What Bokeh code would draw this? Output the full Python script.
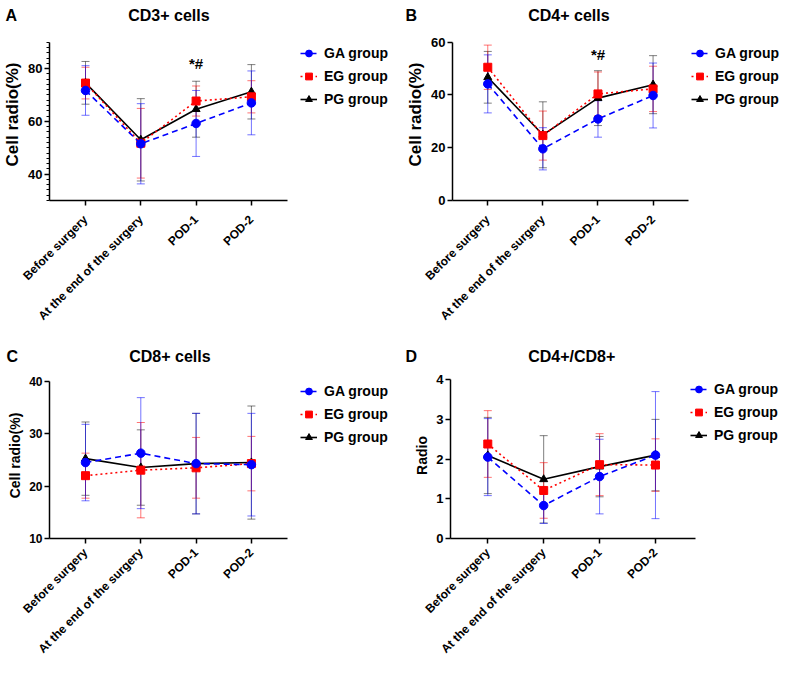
import math
from bokeh.plotting import figure
from bokeh.models import (Range1d, FixedTicker, Legend, LegendItem, Title,
                          ColumnDataSource, Whisker, TeeHead)
from bokeh.layouts import row, column
from bokeh.embed import file_html
from bokeh.resources import INLINE
from bokeh.core.properties import value

# ---------------- data ----------------
categories = ["Before surgery", "At the end of the surgery", "POD-1", "POD-2"]
x_pos = [0, 1, 2, 3]
group_names = ["GA group", "EG group", "PG group"]

cd3_ga_mean = [71.7, 51.5, 59.2, 67.0]
cd3_ga_sd = [9.4, 15.2, 12.5, 12.1]
cd3_eg_mean = [74.5, 51.7, 67.7, 69.3]
cd3_eg_sd = [6.0, 13.2, 5.7, 6.1]
cd3_pg_mean = [74.6, 53.0, 64.6, 71.2]
cd3_pg_sd = [8.1, 15.6, 10.6, 10.3]

cd4_ga_mean = [44.2, 19.6, 30.9, 39.8]
cd4_ga_sd = [11.0, 8.0, 6.9, 12.3]
cd4_eg_mean = [50.5, 24.6, 40.4, 42.3]
cd4_eg_sd = [8.4, 9.3, 8.3, 8.6]
cd4_pg_mean = [46.7, 24.9, 38.8, 43.9]
cd4_pg_sd = [9.8, 12.5, 10.4, 11.0]

cd8_ga_mean = [24.5, 26.3, 24.3, 24.1]
cd8_ga_sd = [7.3, 10.6, 9.6, 9.8]
cd8_eg_mean = [22.0, 23.05, 23.5, 24.3]
cd8_eg_sd = [4.3, 9.1, 5.8, 5.2]
cd8_pg_mean = [25.25, 23.55, 24.3, 24.5]
cd8_pg_sd = [7.0, 7.2, 9.6, 10.8]

ratio_ga_mean = [2.05, 0.83, 1.56, 2.10]
ratio_ga_sd = [0.97, 0.45, 0.94, 1.60]
ratio_eg_mean = [2.38, 1.21, 1.86, 1.85]
ratio_eg_sd = [0.84, 0.70, 0.78, 0.66]
ratio_pg_mean = [2.09, 1.49, 1.81, 2.10]
ratio_pg_sd = [0.96, 1.10, 0.76, 0.90]

cd3_ylim = (30, 90)
cd3_yticks = [40, 60, 80]
cd3_yminor = list(range(30, 91, 2))
cd4_ylim = (0, 60)
cd4_yticks = [0, 20, 40, 60]
cd8_ylim = (10, 40)
cd8_yticks = [10, 20, 30, 40]
ratio_ylim = (0, 4)
ratio_yticks = [0, 1, 2, 3, 4]

panel_letters = ["A", "B", "C", "D"]
panel_titles = ["CD3+ cells", "CD4+ cells", "CD8+ cells", "CD4+/CD8+"]

sig_mark = "*#"
sig_x = 2
cd3_sig_y = 82
cd4_sig_y = 55.5

FONT = "Liberation Sans"
NBSP = "\u00a0"
styles = {
    "GA group": dict(color="#0000FF", dash="6 4", marker="circle", size=8.5, ealpha=0.55),
    "EG group": dict(color="#FF0000", dash="2 3", marker="square", size=8, ealpha=0.55),
    "PG group": dict(color="#000000", dash="solid", marker="triangle", size=8, ealpha=0.5),
}


def make_panel(w, h, bl, bt, bb, xr, xbounds, ylim, ytop, yticks, yminor, ylabel,
               ylabel_size, ytick_size, letter, title, gap, head_off, head_stand,
               xstand, legend_x, legend_y, series, sig_y=None):
    # frame reaches up to the heading; the axis itself is bounded to ylim
    p = figure(width=w, height=h, output_backend="svg", toolbar_location=None,
               x_range=Range1d(*xr), y_range=Range1d(ylim[0], ytop),
               min_border_left=bl, min_border_top=bt, min_border_bottom=bb,
               min_border_right=0)
    p.title.visible = False
    p.outline_line_color = None
    p.xgrid.visible = False
    p.ygrid.visible = False
    p.background_fill_color = "white"
    p.border_fill_color = "white"

    # axes
    p.xaxis.ticker = FixedTicker(ticks=x_pos)
    p.xaxis.bounds = xbounds
    p.xaxis.major_label_overrides = {i: c for i, c in zip(x_pos, categories)}
    p.xaxis.major_label_orientation = math.pi / 4
    p.yaxis.ticker = FixedTicker(ticks=yticks, minor_ticks=yminor)
    p.yaxis.bounds = ylim
    p.yaxis.axis_label = ylabel
    for ax in (p.xaxis[0], p.yaxis[0]):
        ax.axis_line_width = 1.5
        ax.axis_line_color = "black"
        ax.major_tick_line_width = 1.5
        ax.major_tick_line_color = "black"
        ax.major_tick_out = 5
        ax.major_tick_in = 0
        ax.minor_tick_out = 3
        ax.minor_tick_in = 0
        ax.minor_tick_line_width = 1
        ax.minor_tick_line_color = "black"
        ax.major_label_text_font = FONT
        ax.major_label_text_font_style = "bold"
        ax.major_label_text_color = "black"
        ax.axis_label_text_font = FONT
        ax.axis_label_text_font_style = "bold"
        ax.axis_label_text_color = "black"
    p.xaxis.major_label_text_font_size = "12px"
    p.xaxis.major_label_standoff = xstand
    p.yaxis.major_label_text_font_size = ytick_size
    p.yaxis.major_label_standoff = 2
    p.yaxis.axis_label_text_font_size = ylabel_size
    p.yaxis.axis_label_standoff = 3

    order = ["PG group", "EG group", "GA group"]
    rend = {}
    for g in order:
        mean, sd = series[g]
        st = styles[g]
        src = ColumnDataSource(dict(
            x=x_pos, y=mean,
            upper=[m + s for m, s in zip(mean, sd)],
            lower=[m - s for m, s in zip(mean, sd)]))
        wk = Whisker(base="x", upper="upper", lower="lower", source=src,
                     line_color=st["color"], line_alpha=st["ealpha"], line_width=1,
                     upper_head=TeeHead(size=8, line_color=st["color"],
                                        line_alpha=st["ealpha"], line_width=1),
                     lower_head=TeeHead(size=8, line_color=st["color"],
                                        line_alpha=st["ealpha"], line_width=1))
        p.add_layout(wk)
        lr = p.line("x", "y", source=src, line_color=st["color"], line_width=1.6,
                    line_dash=st["dash"])
        sr = p.scatter("x", "y", source=src, marker=st["marker"], size=st["size"],
                       fill_color=st["color"], line_color=st["color"])
        rend[g] = [lr, sr]
    items = [LegendItem(label=g, renderers=rend[g]) for g in group_names]

    legend = Legend(items=items, location=(legend_x, legend_y),
                    margin=0, padding=0, spacing=3,
                    glyph_width=17, glyph_height=20, label_height=20,
                    label_standoff=7, label_text_font=FONT,
                    label_text_font_style="bold", label_text_font_size="14px",
                    label_text_color="black",
                    background_fill_alpha=0, border_line_alpha=0)
    p.add_layout(legend)

    if sig_y is not None:
        p.text(x=[sig_x], y=[sig_y], text=[sig_mark], text_font=value(FONT),
               text_font_style="bold", text_font_size="15px", text_color="black",
               text_align="center", text_baseline="middle")

    # panel letter and title on one heading line
    heading = letter + NBSP * gap + title
    p.add_layout(Title(text=heading, align="left", vertical_align="middle",
                       offset=head_off, standoff=head_stand, text_font=FONT,
                       text_font_style="bold", text_font_size="16px",
                       text_color="black"), "above")
    return p


pA = make_panel(398, 338, 49, 28, 138, (-0.651, 5.66), (-0.651, 3.656),
                cd3_ylim, 95.19, cd3_yticks, cd3_yminor, "Cell radio(%)", "17px", "13px",
                panel_letters[0], panel_titles[0], 25, -44, 8, 12, 251, 91,
                {"GA group": (cd3_ga_mean, cd3_ga_sd),
                 "EG group": (cd3_eg_mean, cd3_eg_sd),
                 "PG group": (cd3_pg_mean, cd3_pg_sd)}, sig_y=cd3_sig_y)
pB = make_panel(386, 338, 54, 28, 138, (-0.64, 5.385), (-0.64, 3.645),
                cd4_ylim, 65.19, cd4_yticks, [], "Cell radio(%)", "17px", "13px",
                panel_letters[1], panel_titles[1], 25, -47, 8, 12, 239, 91,
                {"GA group": (cd4_ga_mean, cd4_ga_sd),
                 "EG group": (cd4_eg_mean, cd4_eg_sd),
                 "PG group": (cd4_pg_mean, cd4_pg_sd)}, sig_y=cd4_sig_y)
pC = make_panel(398, 325, 49, 34, 123, (-0.651, 5.66), (-0.651, 3.656),
                cd8_ylim, 41.70, cd8_yticks, [], "Cell radio(%)", "14px", "12px",
                panel_letters[2], panel_titles[2], 25, -43, 14, 7, 251, 91,
                {"GA group": (cd8_ga_mean, cd8_ga_sd),
                 "EG group": (cd8_eg_mean, cd8_eg_sd),
                 "PG group": (cd8_pg_mean, cd8_pg_sd)})
pD = make_panel(386, 325, 52, 34, 123, (-0.667, 5.308), (-0.667, 3.716),
                ratio_ylim, 4.181, ratio_yticks, [], "Radio", "14px", "13px",
                panel_letters[3], panel_titles[3], 25, -45, 14, 7, 240, 93,
                {"GA group": (ratio_ga_mean, ratio_ga_sd),
                 "EG group": (ratio_eg_mean, ratio_eg_sd),
                 "PG group": (ratio_pg_mean, ratio_pg_sd)})

layout = column(row(pA, pB), row(pC, pD))
open("out.html", "w").write(file_html(layout, INLINE))
